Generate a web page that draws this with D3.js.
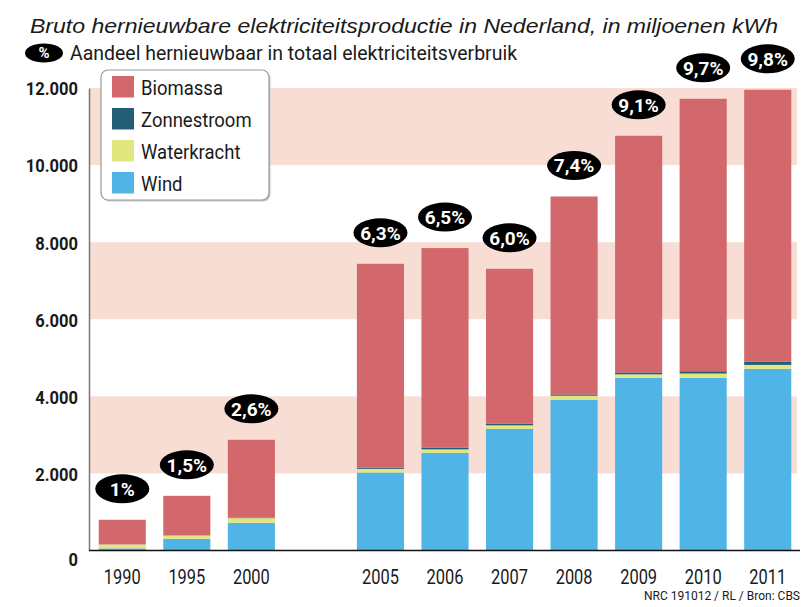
<!DOCTYPE html>
<html>
<head>
<meta charset="utf-8">
<script src="https://cdn.jsdelivr.net/npm/d3@7"></script>
<style>
  body { margin: 0; background: #fff; }
  svg { display: block; }
  .narrow { font-family: Roboto, "Liberation Sans", sans-serif; }
</style>
</head>
<body>
<div id="chart"></div>
<script>
const years = ["1990", "1995", "2000", "2005", "2006", "2007", "2008", "2009", "2010", "2011"];
const wind = [56, 305, 720, 2024, 2535, 3158, 3910, 4481, 4481, 4715];
const waterkracht = [100, 88, 120, 95, 90, 90, 105, 90, 110, 100];
const zonnestroom = [0, 8, 8, 32, 40, 40, 35, 50, 60, 80];
const biomassa = [641, 1018, 2024, 5288, 5181, 4021, 5135, 6139, 7069, 7059];
const aandeel = ["1%", "1,5%", "2,6%", "6,3%", "6,5%", "6,0%", "7,4%", "9,1%", "9,7%", "9,8%"];
const yTicks = [0, 2000, 4000, 6000, 8000, 10000, 12000];

const series = [
    { key: "biomassa", label: "Biomassa", color: "#d2676c" },
    { key: "zonnestroom", label: "Zonnestroom", color: "#245e75" },
    { key: "waterkracht", label: "Waterkracht", color: "#e2e67f" },
    { key: "wind", label: "Wind", color: "#50b5e6" }
];

const table = years.map((y, i) => ({
    year: y,
    wind: wind[i],
    waterkracht: waterkracht[i],
    zonnestroom: zonnestroom[i],
    biomassa: biomassa[i],
    pct: aandeel[i]
}));

// squeeze text horizontally, the original uses a condensed face
function condense(sel, f) {
    sel.each(function () {
        const w = this.getComputedTextLength();
        d3.select(this)
            .attr("textLength", w * f)
            .attr("lengthAdjust", "spacingAndGlyphs");
    });
}

const width = 810, height = 607;
const svg = d3.select("#chart").append("svg")
    .attr("width", width)
    .attr("height", height);

// one empty slot between 2000 and 2005
const xDomain = years.slice(0, 3).concat(["gap"], years.slice(3));
const x = d3.scaleBand()
    .domain(xDomain)
    .range([90, 800])
    .paddingInner(0.27)
    .paddingOuter(0.135);

const y = d3.scaleLinear()
    .domain([0, 12000])
    .range([550.5, 88]);

// pink bands
for (let k = 1; k < yTicks.length - 1; k += 2) {
    svg.append("rect")
        .attr("x", 90)
        .attr("width", 707)
        .attr("y", y(yTicks[k + 1]))
        .attr("height", y(yTicks[k]) - y(yTicks[k + 1]))
        .attr("fill", "#f8ddd5");
}

const stack = d3.stack().keys(["wind", "waterkracht", "zonnestroom", "biomassa"]);
const color = d => series.find(s => s.key === d).color;

svg.append("g").selectAll("g")
    .data(stack(table))
    .enter().append("g")
    .attr("fill", d => color(d.key))
    .selectAll("rect")
    .data(d => d)
    .enter().append("rect")
    .attr("x", d => x(d.data.year))
    .attr("y", d => y(d[1]))
    .attr("width", x.bandwidth())
    .attr("height", d => y(d[0]) - y(d[1]));

// axes
const fmt = d3.formatLocale({ decimal: ",", thousands: ".", grouping: [3], currency: ["", ""] }).format(",");

const yAxis = svg.append("g")
    .attr("transform", "translate(89,0)")
    .call(d3.axisLeft(y).tickValues(yTicks).tickFormat(fmt).tickSize(0).tickPadding(11));
yAxis.select(".domain").attr("stroke", "#777").attr("stroke-width", 1.5);
yAxis.selectAll("text")
    .attr("class", "narrow")
    .attr("font-size", 19)
    .attr("font-weight", "bold")
    .attr("fill", "#1a1a1a")
    .attr("dy", d => d === 0 ? "0.8em" : "0.36em")
    .call(condense, 0.87);

svg.append("line")
    .attr("x1", 89).attr("x2", 800)
    .attr("y1", y(0)).attr("y2", y(0))
    .attr("stroke", "#111").attr("stroke-width", 1.5);

const xAxis = svg.append("g")
    .attr("transform", `translate(0,${y(0)})`)
    .call(d3.axisBottom(x).tickValues(years).tickSize(0).tickPadding(19));
xAxis.select(".domain").remove();
xAxis.selectAll("text")
    .attr("class", "narrow")
    .attr("font-size", 20)
    .attr("fill", "#1a1a1a")
    .call(condense, 0.82);

// percentage labels
const labels = svg.append("g").selectAll("g")
    .data(table)
    .enter().append("g")
    .attr("transform", d => {
        const top = d.wind + d.waterkracht + d.zonnestroom + d.biomassa;
        return `translate(${x(d.year) + x.bandwidth() / 2},${y(top) - 31})`;
    });
labels.append("ellipse")
    .attr("rx", 27).attr("ry", 14.5)
    .attr("fill", "#000");
labels.append("text")
    .attr("class", "narrow")
    .attr("text-anchor", "middle")
    .attr("dy", "0.36em")
    .attr("font-size", 19)
    .attr("font-weight", "bold")
    .attr("fill", "#fff")
    .text(d => d.pct);

// titles
svg.append("text")
    .attr("x", 30).attr("y", 33)
    .attr("font-family", "'Liberation Sans', Arial, sans-serif")
    .attr("font-style", "italic")
    .attr("font-size", 21)
    .attr("fill", "#1a1a1a")
    .attr("textLength", 748)
    .attr("lengthAdjust", "spacingAndGlyphs")
    .text("Bruto hernieuwbare elektriciteitsproductie in Nederland, in miljoenen kWh");

svg.append("ellipse")
    .attr("cx", 44).attr("cy", 53)
    .attr("rx", 19).attr("ry", 9.5)
    .attr("fill", "#000");
svg.append("text")
    .attr("class", "narrow")
    .attr("x", 44).attr("y", 53)
    .attr("dy", "0.36em")
    .attr("text-anchor", "middle")
    .attr("font-size", 15)
    .attr("font-weight", "bold")
    .attr("fill", "#fff")
    .text("%");
svg.append("text")
    .attr("class", "narrow")
    .attr("x", 70).attr("y", 60)
    .attr("font-size", 20)
    .attr("fill", "#1a1a1a")
    .attr("textLength", 447)
    .attr("lengthAdjust", "spacingAndGlyphs")
    .text("Aandeel hernieuwbaar in totaal elektriciteitsverbruik");

// legend
const legend = svg.append("g").attr("transform", "translate(101,70)");
legend.append("rect")
    .attr("x", 1.5).attr("y", 1.5)
    .attr("width", 168).attr("height", 130)
    .attr("rx", 7)
    .attr("fill", "#c8c8c8");
legend.append("rect")
    .attr("width", 168).attr("height", 130)
    .attr("rx", 7)
    .attr("fill", "#fff")
    .attr("stroke", "#999")
    .attr("stroke-width", 1.2);

const item = legend.selectAll(".item")
    .data(series)
    .enter().append("g")
    .attr("transform", (d, i) => `translate(11,${6 + i * 32})`);
item.append("rect")
    .attr("width", 22).attr("height", 21.5)
    .attr("fill", d => d.color);
item.append("text")
    .attr("class", "narrow")
    .attr("x", 29).attr("y", 11)
    .attr("dy", "0.36em")
    .attr("font-size", 21)
    .attr("fill", "#1a1a1a")
    .text(d => d.label)
    .call(condense, 0.88);

// source
svg.append("text")
    .attr("class", "narrow")
    .attr("x", 800).attr("y", 600)
    .attr("text-anchor", "end")
    .attr("font-size", 12)
    .attr("fill", "#1a1a1a")
    .text("NRC 191012 / RL / Bron: CBS");
</script>
</body>
</html>
